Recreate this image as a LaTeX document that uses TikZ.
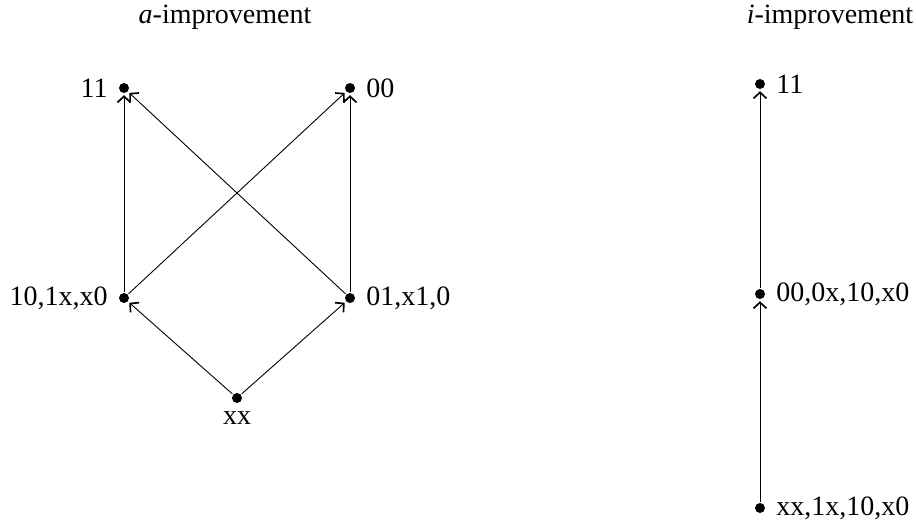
\documentclass[tikz,border=0pt]{standalone}
\usepackage{fontspec}
\setmainfont{Liberation Serif}
\usetikzlibrary{arrows.meta}
\begin{document}
\begin{tikzpicture}[x=1pt,y=-1pt,
  every node/.style={font=\fontsize{28}{31}\selectfont},
  pt/.style={circle,fill=black,inner sep=0pt,minimum size=10pt},
  every label/.style={inner sep=0pt,font=\fontsize{28}{31}\selectfont},
  label distance=11pt,
  conn/.style={line width=0.9pt,-{Straight Barb[length=6pt,width=13pt,line width=1.7pt]},shorten >=2pt,shorten <=1pt}]
\useasboundingbox (0,0) rectangle (916,523);
\node[anchor=base] (ta) at (225,23) {\textit{a}-improvement};
\node[anchor=base] (ti) at (830,23) {\textit{i}-improvement};
% left lattice
\node[pt,label=left:11] (l11) at (124,88) {};
\node[pt,label=right:00] (l00) at (350,88) {};
\node[pt,label=left:{10,1x,x0}] (l10) at (124,298) {};
\node[pt,label=right:{01,x1,0}] (l01) at (350,298) {};
\node[pt,label={[label distance=8pt]below:xx}] (lxx) at (237,398) {};
\draw[conn] (l10) -- (l11);
\draw[conn] (l10) -- (l00);
\draw[conn] (l01) -- (l11);
\draw[conn] (l01) -- (l00);
\draw[conn] (lxx) -- (l10);
\draw[conn] (lxx) -- (l01);
% right chain
\node[pt,label=right:11] (r11) at (760,84) {};
\node[pt,label=right:{00,0x,10,x0}] (r00) at (760,294) {};
\node[pt,label=right:{xx,1x,10,x0}] (rxx) at (760,508) {};
\draw[conn] (rxx) -- (r00);
\draw[conn] (r00) -- (r11);
\end{tikzpicture}
\end{document}
